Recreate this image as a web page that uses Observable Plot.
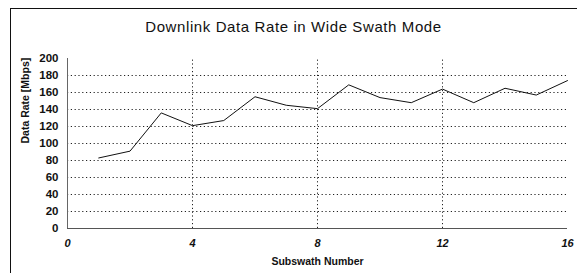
<!DOCTYPE html>
<html>
<head>
<meta charset="utf-8">
<script src="https://cdn.jsdelivr.net/npm/d3@7"></script>
<script src="https://cdn.jsdelivr.net/npm/@observablehq/plot@0.6"></script>
<style>
  body { margin: 0; background: #fff; }
  #wrap { position: relative; width: 577px; height: 273px; overflow: hidden; }
  #frame { position: absolute; left: 10px; top: 8px; width: 580px; height: 280px;
           border-left: 1.5px solid #111; border-top: 1.5px solid #111; pointer-events: none; }
  svg { font-family: "Liberation Sans", Arial, sans-serif; }
  svg g.title text { letter-spacing: 0.6px; }
</style>
</head>
<body>
<div id="wrap"><div id="frame"></div></div>
<script>
const title = "Downlink Data Rate in Wide Swath Mode";
const xLabel = "Subswath Number";
const yLabel = "Data Rate [Mbps]";
const subswath = [1, 2, 3, 4, 5, 6, 7, 8, 9, 10, 11, 12, 13, 14, 15, 16];
const rate = [83, 91, 136, 121, 127, 155, 145, 141, 169, 154, 148, 164, 148, 165, 157, 174];
const xTicks = [0, 4, 8, 12, 16];
const yTicks = [0, 20, 40, 60, 80, 100, 120, 140, 160, 180, 200];
const hGrid = [20, 40, 60, 80, 100, 120, 140, 160, 180];
const vGrid = [4, 8, 12];

const data = subswath.map((s, i) => ({s, r: rate[i]}));

const chart = Plot.plot({
  width: 577,
  height: 273,
  marginLeft: 67,
  marginRight: 10,
  marginTop: 58,
  marginBottom: 45,
  style: {fontFamily: "'Liberation Sans', Arial, sans-serif", background: "transparent"},
  x: {domain: [0, 16]},
  y: {domain: [0, 200]},
  marks: [
    Plot.ruleY(hGrid, {stroke: "#222", strokeDasharray: "1.2,2.6", strokeWidth: 1}),
    Plot.ruleX(vGrid, {y1: 0, y2: 200, stroke: "#222", strokeDasharray: "1.2,2.6", strokeWidth: 1}),
    Plot.ruleX([0], {y1: 0, y2: 200, stroke: "#666", strokeWidth: 1}),
    Plot.ruleY([0], {stroke: "#555", strokeWidth: 1}),
    Plot.axisY({ticks: yTicks, tickSize: 0, tickPadding: 9, label: null,
      fontWeight: "bold", fontSize: 11.5, fill: "#111"}),
    Plot.axisX({ticks: xTicks, tickSize: 0, tickPadding: 11, label: null,
      fontWeight: "bold", fontStyle: "italic", fontSize: 11, fill: "#111"}),
    Plot.line(data, {x: "s", y: "r", stroke: "#111", strokeWidth: 1}),
    Plot.text([title], {frameAnchor: "top", dy: -37, dx: -24, fontSize: 15, fill: "#111", className: "title"}),
    Plot.text([xLabel], {frameAnchor: "bottom", dy: 36, fontSize: 10.5, fontWeight: "bold", fill: "#111"}),
    Plot.text([yLabel], {frameAnchor: "left", dx: -42, dy: 0, rotate: -90, fontSize: 10.5, fontWeight: "bold", fill: "#111"})
  ]
});
document.getElementById("wrap").prepend(chart);
</script>
</body>
</html>
